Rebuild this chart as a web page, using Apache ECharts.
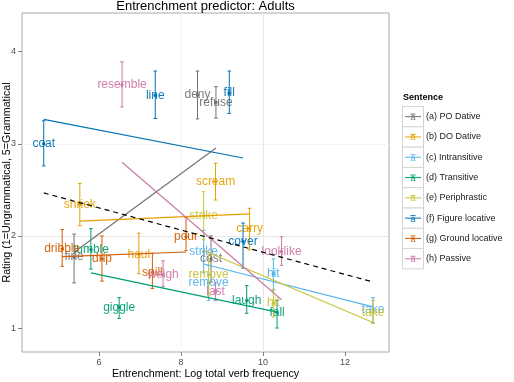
<!DOCTYPE html>
<html>
<head>
<meta charset="utf-8">
<script src="https://cdn.jsdelivr.net/npm/echarts@6/dist/echarts.min.js"></script>
<style>
  html, body { margin: 0; padding: 0; background: #fff; }
  #chart { width: 514px; height: 382px; }
</style>
</head>
<body>
<div id="chart"></div>
<script>
// sentence types and their colours
const groups = ['(a) PO Dative', '(b) DO Dative', '(c) Intransitive', '(d) Transitive',
  '(e) Periphrastic', '(f) Figure locative', '(g) Ground locative', '(h) Passive']
const colors = ['#737373', '#E69F00', '#56B4E9', '#009E73', '#C9C43A', '#0072B2', '#D55E00', '#CC79A7']

// verbs per sentence type
const verbs = [
  ['fine', 'deny', 'refuse', 'cost'],
  ['shriek', 'haul', 'scream', 'carry'],
  ['strike', 'remove', 'hit', 'take'],
  ['tumble', 'giggle', 'laugh', 'fall'],
  ['strike', 'remove', 'hit', 'take'],
  ['coat', 'line', 'fill', 'cover'],
  ['dribble', 'drip', 'spill', 'pour'],
  ['resemble', 'weigh', 'last', 'looklike']
]
// log total verb frequency
const freq = [
  [5.39, 8.40, 8.85, 8.73],
  [5.53, 6.97, 8.84, 9.67],
  [8.55, 8.67, 10.25, 12.68],
  [5.80, 6.49, 9.60, 10.34],
  [8.55, 8.67, 10.25, 12.68],
  [4.65, 7.37, 9.175, 9.51],
  [5.10, 6.07, 7.30, 8.12],
  [6.56, 7.56, 8.84, 10.45]
]
// mean rating
const rating = [
  [1.77, 3.53, 3.45, 1.75],
  [2.34, 1.80, 2.59, 2.08],
  [1.83, 1.49, 1.59, 1.20],
  [1.85, 1.225, 1.30, 1.17],
  [2.22, 1.58, 1.27, 1.17],
  [3.00, 3.525, 3.55, 1.94],
  [1.86, 1.75, 1.605, 1.99],
  [3.64, 1.576, 1.40, 1.83]
]
// error bar ends
const lower = [
  [1.49, 3.27, 3.28, 1.50],
  [2.11, 1.59, 2.39, 1.85],
  [1.60, 1.30, 1.41, 1.06],
  [1.64, 1.105, 1.16, 1.00],
  [1.96, 1.35, 1.12, 1.05],
  [2.76, 3.275, 3.33, 1.65],
  [1.67, 1.51, 1.43, 1.84],
  [3.40, 1.45, 1.30, 1.68]
]
const upper = [
  [2.02, 3.79, 3.62, 2.00],
  [2.57, 2.03, 2.79, 2.30],
  [2.06, 1.68, 1.75, 1.33],
  [2.08, 1.33, 1.46, 1.30],
  [2.48, 1.80, 1.42, 1.30],
  [3.25, 3.79, 3.79, 2.14],
  [2.07, 2.00, 1.81, 2.20],
  [3.89, 1.73, 1.49, 1.99]
]

const xTicks = [6, 8, 10, 12]
const yTicks = [1, 2, 3, 4]

const FONT = '"Liberation Sans", Arial, sans-serif'

// least squares line over the x range of the points
function lmLine(xs, ys) {
  const n = xs.length
  const mx = xs.reduce((a, b) => a + b, 0) / n
  const my = ys.reduce((a, b) => a + b, 0) / n
  let sxx = 0, sxy = 0
  for (let i = 0; i < n; i++) {
    sxx += (xs[i] - mx) * (xs[i] - mx)
    sxy += (xs[i] - mx) * (ys[i] - my)
  }
  const b = sxy / sxx
  const a = my - b * mx
  const x0 = Math.min(...xs), x1 = Math.max(...xs)
  return [[x0, a + b * x0], [x1, a + b * x1]]
}

const series = []

groups.forEach((g, gi) => {
  const c = colors[gi]
  series.push({
    name: g,
    type: 'custom',
    z: 2,
    data: freq[gi].map((x, i) => [x, rating[gi][i], lower[gi][i], upper[gi][i]]),
    encode: { x: 0, y: 1 },
    renderItem(params, api) {
      const p = api.coord([api.value(0), api.value(1)])
      const lo = api.coord([api.value(0), api.value(2)])
      const hi = api.coord([api.value(0), api.value(3)])
      const ls = { stroke: c, lineWidth: 1 }
      return {
        type: 'group',
        children: [
          { type: 'line', shape: { x1: p[0], y1: lo[1], x2: p[0], y2: hi[1] }, style: ls },
          { type: 'line', shape: { x1: p[0] - 1.8, y1: lo[1], x2: p[0] + 1.8, y2: lo[1] }, style: ls },
          { type: 'line', shape: { x1: p[0] - 1.8, y1: hi[1], x2: p[0] + 1.8, y2: hi[1] }, style: ls },
          { type: 'circle', shape: { cx: p[0], cy: p[1], r: 1.7 }, style: { fill: c } },
          {
            type: 'text', x: p[0], y: p[1],
            style: { text: verbs[gi][params.dataIndex], fill: c, font: '12px ' + FONT, align: 'center', verticalAlign: 'middle', opacity: 0.95 }
          }
        ]
      }
    }
  })
})

groups.forEach((g, gi) => {
  series.push({
    name: g,
    type: 'line',
    z: 3,
    symbol: 'none',
    silent: true,
    lineStyle: { color: colors[gi], width: 1.2 },
    data: lmLine(freq[gi], rating[gi])
  })
})

series.push({
  name: 'all',
  type: 'line',
  z: 4,
  symbol: 'none',
  silent: true,
  lineStyle: { color: '#000', width: 1.2, type: [5, 4] },
  data: lmLine(freq.flat(), rating.flat())
})

// legend drawn as keys like the original
const legendGraphics = [
  { type: 'text', left: 403, top: 93.5, style: { text: 'Sentence', font: 'bold 9px ' + FONT, fill: '#000' } }
]
groups.forEach((g, gi) => {
  const top = 106.5 + gi * 20.3
  const cy = top + 10.15
  legendGraphics.push(
    { type: 'rect', shape: { x: 402.5, y: top, width: 21, height: 20.3 }, style: { fill: '#fff', stroke: '#d4d4d4', lineWidth: 1 } },
    { type: 'line', shape: { x1: 405, y1: cy, x2: 421, y2: cy }, style: { stroke: colors[gi], lineWidth: 1 } },
    { type: 'line', shape: { x1: 410.5, y1: cy - 2.5, x2: 415.5, y2: cy - 2.5 }, style: { stroke: colors[gi], lineWidth: 1 } },
    { type: 'text', x: 413, y: cy + 1, style: { text: 'a', font: '9px ' + FONT, fill: colors[gi], align: 'center', verticalAlign: 'middle' } },
    { type: 'text', x: 426, y: cy, style: { text: g, font: '9px ' + FONT, fill: '#1a1a1a', verticalAlign: 'middle' } }
  )
})

const chart = echarts.init(document.getElementById('chart'), null, { renderer: 'canvas' })
chart.setOption({
  animation: false,
  backgroundColor: '#fff',
  grid: {
    left: 22, right: 125, top: 13, bottom: 30,
    outerBoundsMode: 'none', containLabel: false,
    show: true, borderColor: '#a8a8a8', borderWidth: 1, backgroundColor: '#fff'
  },
  graphic: [
    { type: 'text', x: 205.5, y: 6.5, style: { text: 'Entrenchment predictor: Adults', font: '13px ' + FONT, fill: '#000', align: 'center', verticalAlign: 'middle' } },
    ...legendGraphics
  ],
  xAxis: {
    type: 'value',
    min: 4.12, max: 13.07, interval: 1,
    name: 'Entrenchment: Log total verb frequency',
    nameLocation: 'middle', nameGap: 16.5, nameMoveOverlap: false,
    nameTextStyle: { fontFamily: FONT, fontSize: 10.7, color: '#000' },
    axisLine: { show: false },
    axisTick: { customValues: xTicks, length: 4, lineStyle: { color: '#7f7f7f' } },
    axisLabel: { customValues: xTicks, fontFamily: FONT, fontSize: 9, color: '#4d4d4d', margin: 6.5 },
    splitLine: { show: true, showMinLine: false, showMaxLine: false, lineStyle: { color: ['#f4f4f4', '#e6e6e6'], width: 1 } }
  },
  yAxis: {
    type: 'value',
    min: 0.74, max: 4.42, interval: 0.5,
    name: 'Rating (1=Ungrammatical, 5=Grammatical',
    nameLocation: 'middle', nameGap: 9, nameMoveOverlap: false,
    nameTextStyle: { fontFamily: FONT, fontSize: 10.7, color: '#000' },
    axisLine: { show: false },
    axisTick: { customValues: yTicks, length: 4, lineStyle: { color: '#7f7f7f' } },
    axisLabel: { customValues: yTicks, fontFamily: FONT, fontSize: 9, color: '#4d4d4d', margin: 6 },
    splitLine: { show: true, showMinLine: false, showMaxLine: false, lineStyle: { color: ['#e6e6e6', '#f4f4f4'], width: 1 } }
  },
  series
})
</script>
</body>
</html>
